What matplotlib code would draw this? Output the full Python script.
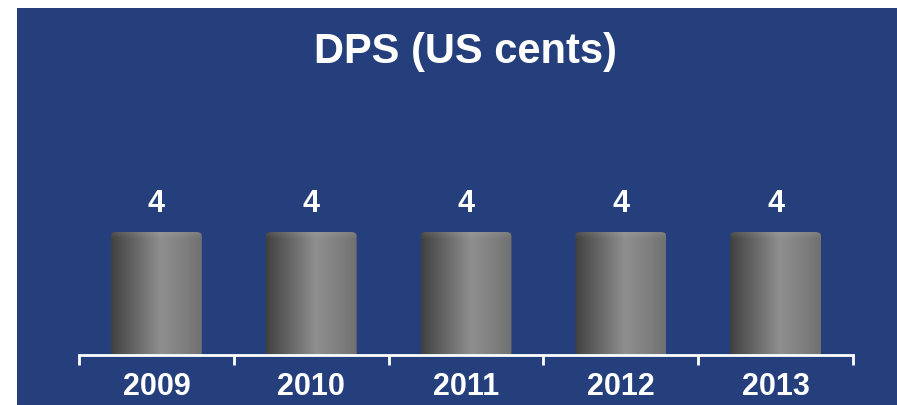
import matplotlib
matplotlib.use("Agg")
import matplotlib.pyplot as plt
from matplotlib.patches import Rectangle, FancyBboxPatch
import numpy as np

years = ["2009", "2010", "2011", "2012", "2013"]
dps = [4, 4, 4, 4, 4]
title = "DPS (US cents)"

BG = "#243f7b"
FONT = "Liberation Sans"


def cylinder(ax, x, h, w):
    # horizontal shading: dark left, highlight a bit right of centre, mid-grey right
    xs = np.linspace(0, 1, 200)
    prof = np.interp(xs, [0.0, 0.08, 0.3, 0.55, 0.8, 1.0],
                     [0.25, 0.30, 0.42, 0.56, 0.50, 0.44])
    ys = np.linspace(0, 1, 120)
    top = np.clip((ys - 0.955) / 0.045, 0, 1)
    img = prof[None, :] + 0.08 * top[:, None] * (1 - prof[None, :])
    img = np.repeat(img[:, :, None], 3, axis=2)
    box = FancyBboxPatch((x - w / 2, -0.5), w, h + 0.5,
                         boxstyle="round,pad=0,rounding_size=0.035",
                         mutation_aspect=3.6, facecolor="none",
                         edgecolor="none", transform=ax.transData)
    ax.add_patch(box)
    im = ax.imshow(img, extent=[x - w / 2, x + w / 2, -0.5, h], origin="lower",
                   aspect="auto", interpolation="bilinear", zorder=2)
    im.set_clip_path(box)


def main():
    fig = plt.figure(figsize=(8.97, 4.05), dpi=100, facecolor="white")
    fig.patches.append(Rectangle((17 / 897, 0), 1 - 17 / 897, 397 / 405,
                                 transform=fig.transFigure, facecolor=BG,
                                 edgecolor="none", zorder=-5))

    ax = fig.add_axes([79 / 897, 50 / 405, 774 / 897, 246 / 405])
    ax.set_zorder(2)
    ax.set_facecolor("none")
    ax.set_xlim(-0.5, len(years) - 0.5)
    ax.set_ylim(0, 8)

    pos = np.arange(len(years))
    for i, v in zip(pos, dps):
        cylinder(ax, i, v, 0.587)
        ax.text(i, v + 0.65, str(v), ha="center", va="baseline", color="white",
                fontsize=22, fontweight="bold", family=FONT)
        ax.text(i, -1.30, years[i], ha="center", va="baseline", color="white",
                fontsize=22, fontweight="bold", family=FONT, clip_on=False)

    for s in ["top", "right", "left"]:
        ax.spines[s].set_visible(False)
    ax.spines["bottom"].set_color("white")
    ax.spines["bottom"].set_linewidth(2)
    ax.spines["bottom"].set_zorder(3)
    ax.set_yticks([])
    ax.set_xticks(np.arange(-0.5, len(years), 1.0))
    ax.set_xticklabels([])
    ax.tick_params(axis="x", direction="out", length=7, width=2, color="white")

    fig.text(466 / 897, 0.845, title, ha="center", va="baseline", color="white",
             fontsize=30, fontweight="bold", family=FONT, zorder=3)

    fig.savefig("out.png", dpi=100, facecolor="white")


if __name__ == "__main__":
    main()
